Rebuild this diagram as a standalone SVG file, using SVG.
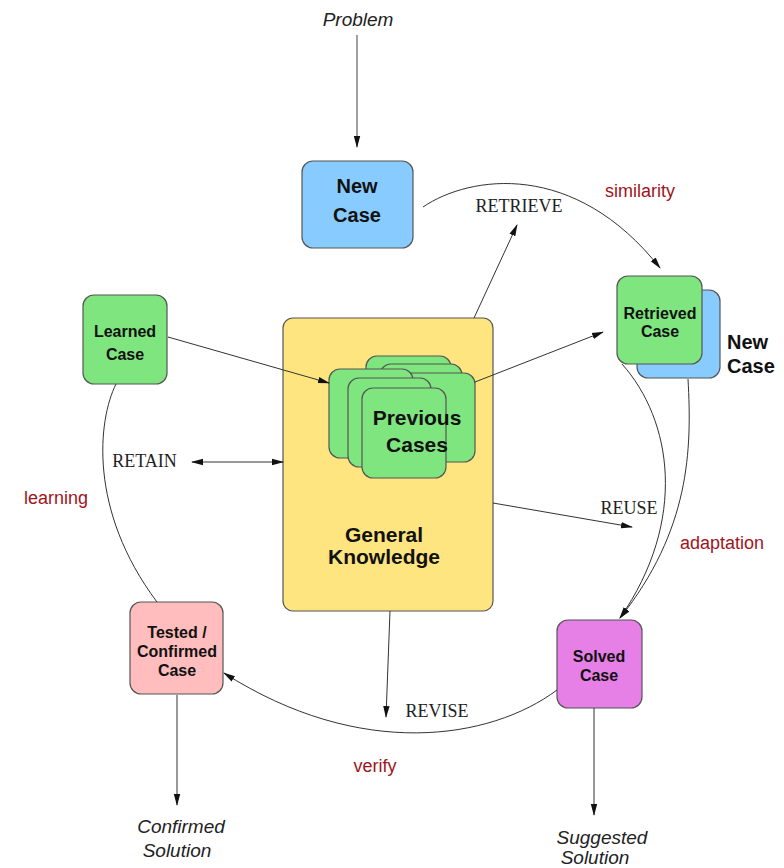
<svg xmlns="http://www.w3.org/2000/svg" width="784" height="868" viewBox="0 0 784 868">
<defs>
<marker id="ah" markerWidth="12" markerHeight="8" refX="11" refY="4" orient="auto" markerUnits="userSpaceOnUse">
<path d="M0,0.8 L12,4 L0,7.2 Z" fill="#111"/>
</marker>
<marker id="ahs" markerWidth="12" markerHeight="8" refX="1" refY="4" orient="auto" markerUnits="userSpaceOnUse">
<path d="M12,0.8 L0,4 L12,7.2 Z" fill="#111"/>
</marker>
<style>
.box{stroke:#555;stroke-width:1.2}
.green{fill:#7fe67f}
.blue{fill:#88ccff}
.yellow{fill:#ffe57f}
.pink{fill:#ffbdbd}
.purple{fill:#e67fe6}
.lbl{font-family:"Liberation Sans",Arial,sans-serif;font-weight:bold;fill:#111;text-anchor:middle}
.it{font-family:"Liberation Sans",Arial,sans-serif;font-style:italic;font-size:19px;fill:#222;text-anchor:middle}
.red{font-family:"Liberation Sans",Arial,sans-serif;font-size:18px;fill:#a0141c;text-anchor:middle}
.serif{font-family:"Liberation Serif","Times New Roman",serif;font-size:18px;fill:#222;text-anchor:middle}
.ln{fill:none;stroke:#333;stroke-width:1}
</style>
</defs>
<rect width="784" height="868" fill="#fff"/>

<g id="new-case">
<rect class="box blue" x="302" y="161" width="111" height="87" rx="11"/>
<text class="lbl" x="357" y="193" font-size="20">New</text>
<text class="lbl" x="357" y="222" font-size="20">Case</text>
</g>

<g id="retrieved-case">
<rect class="box blue" x="637" y="290" width="83" height="88" rx="11"/>
<rect class="box green" x="617" y="276" width="85" height="88" rx="11"/>
<text class="lbl" x="660" y="319" font-size="16">Retrieved</text>
<text class="lbl" x="660" y="337" font-size="16">Case</text>
<text class="lbl" x="727" y="349" font-size="20" style="text-anchor:start">New</text>
<text class="lbl" x="727" y="373" font-size="20" style="text-anchor:start">Case</text>
</g>

<g id="learned-case">
<rect class="box green" x="83" y="295" width="84" height="89" rx="11"/>
<text class="lbl" x="125" y="337" font-size="16">Learned</text>
<text class="lbl" x="125" y="360" font-size="16">Case</text>
</g>

<g id="general-knowledge">
<rect class="box yellow" x="283" y="318" width="210" height="293" rx="10"/>
<text class="lbl" x="384" y="542" font-size="21">General</text>
<text class="lbl" x="384" y="564" font-size="21">Knowledge</text>
</g>

<g id="previous-cases">
<rect class="box green" x="366" y="356" width="85" height="89" rx="11"/>
<rect class="box green" x="380" y="364" width="82" height="89" rx="11"/>
<rect class="box green" x="390" y="373" width="85" height="89" rx="11"/>
<rect class="box green" x="329" y="369" width="84" height="89" rx="11"/>
<rect class="box green" x="348" y="378" width="83" height="89" rx="11"/>
<rect class="box green" x="362" y="388" width="84" height="90" rx="11"/>
<text class="lbl" x="417" y="425" font-size="21">Previous</text>
<text class="lbl" x="417" y="452" font-size="21">Cases</text>
</g>

<g id="tested-case">
<rect class="box pink" x="130" y="602" width="93" height="92" rx="11"/>
<text class="lbl" x="177" y="638" font-size="16">Tested /</text>
<text class="lbl" x="177" y="657" font-size="16">Confirmed</text>
<text class="lbl" x="177" y="676" font-size="16">Case</text>
</g>

<g id="solved-case">
<rect class="box purple" x="557" y="620" width="85" height="88" rx="11"/>
<text class="lbl" x="599" y="662" font-size="16">Solved</text>
<text class="lbl" x="599" y="681" font-size="16">Case</text>
</g>

<g id="connectors">
<path class="ln" d="M357 35 L357 147" style="stroke:#888;stroke-width:1.6" marker-end="url(#ah)"/>
<path class="ln" d="M423 207 C470 175 575 160 660 268" marker-end="url(#ah)"/>
<path class="ln" d="M474 318 L517 225" marker-end="url(#ah)"/>
<path class="ln" d="M168 337 L329 383" marker-end="url(#ah)"/>
<path class="ln" d="M475 382 L603 332" marker-end="url(#ah)"/>
<path class="ln" d="M192 462 L283 462" marker-start="url(#ahs)" marker-end="url(#ah)"/>
<path class="ln" d="M116 384 C98 420 88 510 157 602"/>
<path class="ln" d="M493 503 L632 527" marker-end="url(#ah)"/>
<path class="ln" d="M622 364 C672 420 688 520 620 618" marker-end="url(#ah)"/>
<path class="ln" d="M688 379 C692 450 690 530 620 618" marker-end="url(#ah)"/>
<path class="ln" d="M390 611 L386 717" marker-end="url(#ah)"/>
<path class="ln" d="M557 690 C490 740 360 760 224 673" marker-end="url(#ah)"/>
<path class="ln" d="M177 695 L177 805" marker-end="url(#ah)"/>
<path class="ln" d="M594 708 L594 815" marker-end="url(#ah)"/>
</g>

<g id="labels">
<text class="it" x="358" y="26">Problem</text>
<text class="serif" x="519" y="212">RETRIEVE</text>
<text class="red" x="640" y="197">similarity</text>
<text class="serif" x="144.5" y="467">RETAIN</text>
<text class="red" x="56" y="504">learning</text>
<text class="serif" x="629" y="514">REUSE</text>
<text class="red" x="722" y="549">adaptation</text>
<text class="serif" x="437" y="717">REVISE</text>
<text class="red" x="375" y="772">verify</text>
<text class="it" x="181" y="833">Confirmed</text>
<text class="it" x="177" y="857">Solution</text>
<text class="it" x="602" y="844">Suggested</text>
<text class="it" x="595" y="864">Solution</text>
</g>
</svg>
